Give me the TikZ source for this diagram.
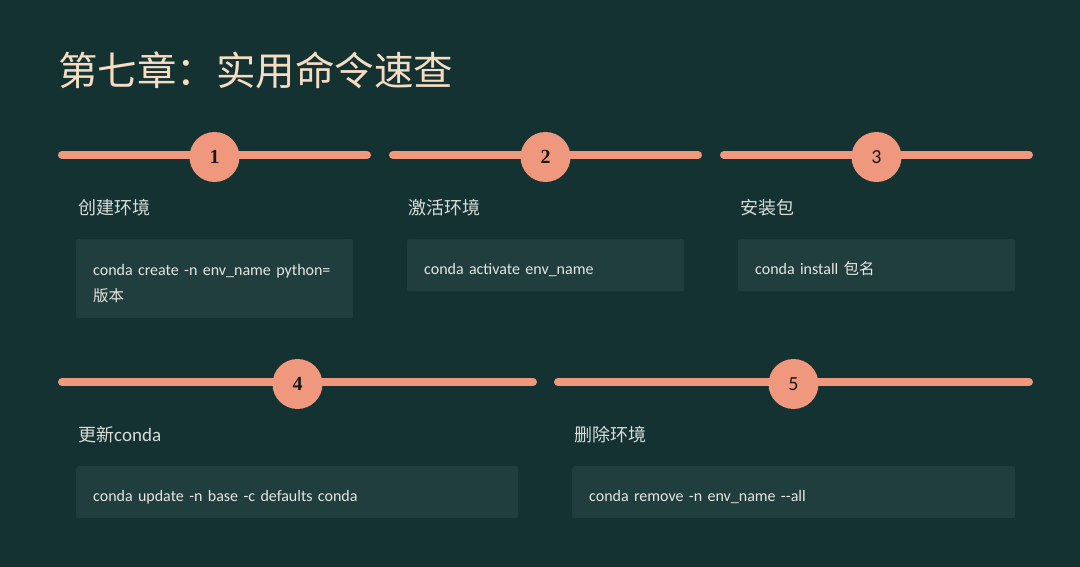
\documentclass[tikz,border=0pt]{standalone}
\usepackage{fontspec}
\setmainfont{Carlito}
\newfontfamily\cjk{Noto Sans CJK SC}
\newfontfamily\numserif{Liberation Serif}
\usepackage{xcolor}
\usetikzlibrary{positioning}

\definecolor{bgdark}{HTML}{143232}
\definecolor{boxfill}{HTML}{213E3E}
\definecolor{salmon}{HTML}{F0987E}
\definecolor{titlecol}{HTML}{F5DCC3}
\definecolor{labelcol}{HTML}{D9DDD8}
\definecolor{cmdcol}{HTML}{E6E6E0}

\begin{document}
\begin{tikzpicture}[x=1pt, y=-1pt,
        bar/.style={line width=8pt, line cap=round, draw=salmon},
        stepnum/.style={circle, fill=salmon, minimum size=50pt, inner sep=0pt, text=black!90, font=\fontsize{20}{22}\selectfont},
        serifnum/.style={stepnum, font=\numserif\bfseries\fontsize{20}{22}\selectfont},
        steplabel/.style={anchor=west, inner sep=0pt, text=labelcol, font=\cjk\fontsize{18}{22}\selectfont},
        cmdbox/.style={anchor=north west, fill=boxfill, rounded corners=2pt, minimum height=52pt, inner xsep=17pt, inner ysep=0pt, align=left, text height=23pt, text depth=4pt, text=cmdcol, font=\fontsize{16}{26}\selectfont}]

        \useasboundingbox (0,0) rectangle (1080,567);
        \fill[bgdark] (0,0) rectangle (1080,567);

        \node (title) [anchor=west, inner sep=0pt, text=titlecol, font=\cjk\fontsize{39.5}{44}\selectfont] at (58,70) {第七章：实用命令速查};

        % row 1
        \coordinate (b1l) at (62,155);  \coordinate (b1r) at (367,155);
        \coordinate (b2l) at (393,155); \coordinate (b2r) at (698,155);
        \coordinate (b3l) at (724,155); \coordinate (b3r) at (1029,155);
        \draw[bar] (b1l) -- (b1r);
        \draw[bar] (b2l) -- (b2r);
        \draw[bar] (b3l) -- (b3r);
        \node (s1) [serifnum] at (214.5,157) {1};
        \node (s2) [serifnum] at (545.5,157) {2};
        \node (s3) [stepnum] at (876.5,157) {3};

        \node (l1) [steplabel] at (78,208) {创建环境};
        \node (l2) [steplabel] at (408,208) {激活环境};
        \node (l3) [steplabel] at (740,208) {安装包};

        \node (c1) [cmdbox, minimum width=277pt, minimum height=79pt, text width=243pt, text depth=30pt] at (76,239) {conda create -n env\_name python=\\{\cjk\fontsize{15.5}{26}\selectfont 版本}};
        \node (c2) [cmdbox, minimum width=277pt, text width=243pt] at (407,239) {conda activate env\_name};
        \node (c3) [cmdbox, minimum width=277pt, text width=243pt] at (738,239) {conda install {\cjk\fontsize{15.5}{26}\selectfont 包名}};

        % row 2
        \coordinate (b4l) at (62,382);  \coordinate (b4r) at (533,382);
        \coordinate (b5l) at (558,382); \coordinate (b5r) at (1029,382);
        \draw[bar] (b4l) -- (b4r);
        \draw[bar] (b5l) -- (b5r);
        \node (s4) [serifnum] at (297.5,384) {4};
        \node (s5) [stepnum] at (793.5,384) {5};

        \node (l4) [steplabel] at (78,435) {更新{\rmfamily\fontsize{19}{22}\selectfont conda}};
        \node (l5) [steplabel] at (574,435) {删除环境};

        \node (c4) [cmdbox, minimum width=442pt, text width=408pt] at (76,466) {conda update -n base -c defaults conda};
        \node (c5) [cmdbox, minimum width=443pt, text width=409pt] at (572,466) {conda remove -n env\_name {-}{-}all};
\end{tikzpicture}
\end{document}
